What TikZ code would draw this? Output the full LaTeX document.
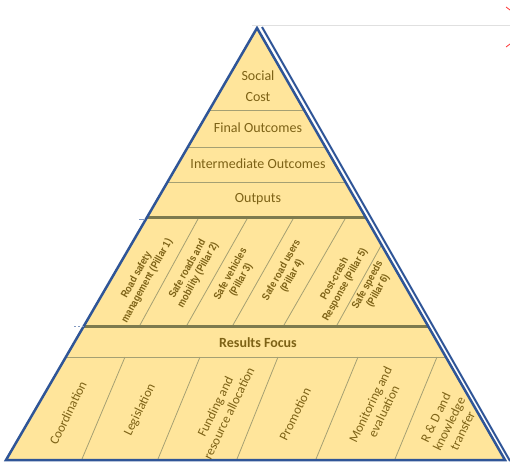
\documentclass[tikz,border=0pt]{standalone}
\usepackage{fontspec}
\setmainfont{Carlito}
\newfontfamily\pillarfont[FakeStretch=0.86]{Liberation Sans}
\usepackage{xcolor}
\usetikzlibrary{positioning, calc}

\definecolor{pyrfill}{RGB}{255,229,155}
\definecolor{pyrtext}{RGB}{125,98,22}
\definecolor{pyrblue}{RGB}{47,85,151}
\definecolor{pyrolive}{RGB}{125,122,78}
\definecolor{pyrsep}{RGB}{165,160,115}

\begin{document}
\begin{tikzpicture}[x=1pt, y=-1pt,
        level/.style={text=pyrtext, font=\fontsize{14}{21}\selectfont, align=center, inner sep=0pt},
        pillar/.style={text=pyrtext, font=\pillarfont\bfseries\fontsize{10.5}{12}\selectfont, align=center, rotate=61, inner sep=0pt},
        enabler/.style={text=pyrtext, font=\fontsize{13}{15}\selectfont, align=center, rotate=64, inner sep=0pt},
        thinsep/.style={draw=pyrsep, line width=0.8pt},
        thicksep/.style={draw=pyrolive, line width=3pt}]
    \useasboundingbox (0,0) rectangle (510,463);

    \coordinate (apex) at (257,28);
    \coordinate (bl) at (6,460);
    \coordinate (br) at (505,460);

    % background of the pyramid
    \fill[pyrfill] (apex) -- (bl) -- (br) -- cycle;

    % bands
    \foreach \yy in {110,147,182,357}
        \draw[thinsep] ($(apex)!{(\yy-28)/432}!(bl)$) -- ($(apex)!{(\yy-28)/432}!(br)$);
    \foreach \yy in {217.5,326.5}
        \draw[thicksep] ($(apex)!{(\yy-28)/432}!(bl)$) -- ($(apex)!{(\yy-28)/432}!(br)$);

    % pillar separators
    \foreach \xt/\xb in {198/140, 247/187, 293/233, 345/284}
        \draw[thinsep] (\xt,219) -- (\xb,325);
    \draw[thinsep] (382,244) -- (337,325);

    % enabler separators
    \foreach \xt/\xb in {125/82, 200/158, 278/237, 358/316, 437/395}
        \draw[thinsep] (\xt,357) -- (\xb,459);

    % outline
    \draw[pyrblue, line width=2.5pt, line join=miter] (apex) -- (bl) -- (br) -- cycle;
    \draw[pyrblue, line width=2pt] (262,27) -- (510,461);

    % stray marks
    \draw[black!12, line width=1pt] (252,25) -- (510,25);
    \draw[red!80, line width=0.8pt] (506,7) -- (510,10);
    \draw[red!80, line width=0.8pt] (506,47) -- (510,44);
    \draw[pyrblue!60, line width=0.8pt] (139,219) -- (145,219);
    \draw[pyrblue!60, line width=0.8pt, dashed, dash pattern=on 2pt off 2pt] (74,326) -- (84,326);

    % levels
    \node[level] (social) at (258,86) {Social\\Cost};
    \node[level] (final) at (258,128) {Final Outcomes};
    \node[level] (inter) at (258,164) {Intermediate Outcomes};
    \node[level] (outputs) at (258,199) {Outputs};
    \node[level, font=\bfseries\fontsize{14}{16}\selectfont] (focus) at (258,343) {Results Focus};

    % pillars
    \node[pillar] (p1) at (142,278) {Road safety\\management (Pillar 1)};
    \node[pillar] (p2) at (193,272) {Safe roads and\\mobility (Pillar 2)};
    \node[pillar] (p3) at (236,277) {Safe vehicles\\(Pillar 3)};
    \node[pillar] (p4) at (287,273) {Safe road users\\(Pillar 4)};
    \node[pillar] (p5) at (340,282) {Post-crash\\Response (Pillar 5)};
    \node[pillar] (p6) at (373,288) {Safe speeds\\(Pillar 6)};

    % enablers
    \node[enabler] (coord) at (68,413) {Coordination};
    \node[enabler] (legis) at (140,410) {Legislation};
    \node[enabler] (fund) at (222,410) {Funding and\\resource allocation};
    \node[enabler] (promo) at (295,414) {Promotion};
    \node[enabler] (monit) at (377,408) {Monitoring and\\evaluation};
    \node[enabler] (rnd) at (449,424) {R \& D and\\knowledge\\transfer};
\end{tikzpicture}
\end{document}
